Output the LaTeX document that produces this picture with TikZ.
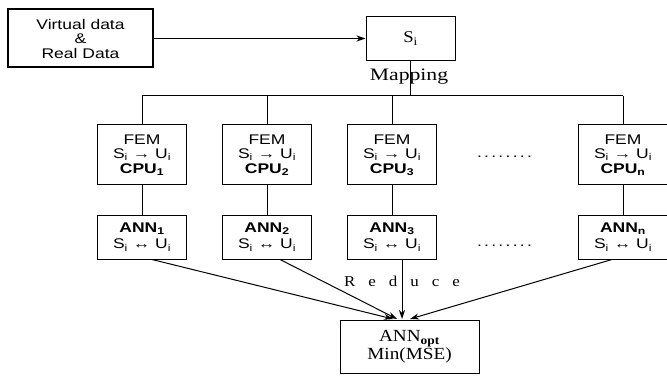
\documentclass[tikz,border=0pt]{standalone}
\usepackage{fontspec}
\setmainfont{Liberation Serif}[FakeStretch=1.13]
\setsansfont{Liberation Sans}[FakeStretch=1.25]
\newfontfamily\mapfont{Liberation Serif}[FakeStretch=1.24]
\usetikzlibrary{arrows.meta,calc}
\newcommand{\dotrow}{.\kern2.3pt.\kern2.3pt.\kern2.3pt.\kern2.3pt.\kern2.3pt.\kern2.3pt.\kern2.3pt.}
\begin{document}
\begin{tikzpicture}[x=1pt,y=-1pt,
  box/.style={draw,line width=1pt,align=center,font=\sffamily\fontsize{14}{14.5}\selectfont,inner sep=0pt},
  fembox/.style={box,minimum width=89pt,minimum height=60pt},
  annbox/.style={box,minimum width=89pt,minimum height=44pt,font=\sffamily\fontsize{14}{16.5}\selectfont},
  wire/.style={line width=1pt},
  arr/.style={line width=1pt,-{Stealth[length=9pt,width=6pt]}},
  dots/.style={font=\sffamily\fontsize{14}{14.5}\selectfont},
  serif/.style={font=\fontsize{16.5}{18}\selectfont},
  ]
\useasboundingbox (0,0) rectangle (667,377);
\clip (0,0) rectangle (667,377);

\node[box,line width=2pt,minimum width=145pt,minimum height=58pt] (vd) at (80.5,38.5) {Virtual data\\\&\\Real Data};
\node[draw,line width=1pt,minimum width=89pt,minimum height=44pt,serif] (si) at (410.5,38.5) {S\textsubscript{i}};
\draw[arr] (vd.east) -- (si.west);

\node[font=\mapfont\fontsize{17.5}{18}\selectfont] (map) at (409,77) {Mapping};
\coordinate (bus) at (410.5,96);
\draw[wire] (si.south) -- (bus);

\node[fembox] (fem1) at (142,155) {FEM\\S\textsubscript{i} → U\textsubscript{i}\\\textbf{CPU\textsubscript{1}}};
\node[fembox] (fem2) at (267,155) {FEM\\S\textsubscript{i} → U\textsubscript{i}\\\textbf{CPU\textsubscript{2}}};
\node[fembox] (fem3) at (392,155) {FEM\\S\textsubscript{i} → U\textsubscript{i}\\\textbf{CPU\textsubscript{3}}};
\node[fembox] (femn) at (623,155) {FEM\\S\textsubscript{i} → U\textsubscript{i}\\\textbf{CPU\textsubscript{n}}};

\draw[wire] (fem1.north |- bus) -- (femn.north |- bus);
\foreach \n in {fem1,fem2,fem3,femn} \draw[wire] (\n.north |- bus) -- (\n.north);

\node[annbox] (ann1) at (142,237) {\textbf{ANN\textsubscript{1}}\\S\textsubscript{i} ↔ U\textsubscript{i}};
\node[annbox] (ann2) at (267,237) {\textbf{ANN\textsubscript{2}}\\S\textsubscript{i} ↔ U\textsubscript{i}};
\node[annbox] (ann3) at (392,237) {\textbf{ANN\textsubscript{3}}\\S\textsubscript{i} ↔ U\textsubscript{i}};
\node[annbox] (annn) at (623,237) {\textbf{ANN\textsubscript{n}}\\S\textsubscript{i} ↔ U\textsubscript{i}};

\draw[wire] (fem1) -- (ann1);
\draw[wire] (fem2) -- (ann2);
\draw[wire] (fem3) -- (ann3);
\draw[wire] (femn) -- (annn);

\node[dots] (d1) at (504.5,157) {\dotrow};
\node[dots] (d2) at (504.5,246) {\dotrow};

\node[draw,line width=1pt,minimum width=139pt,anchor=north,align=center,inner ysep=10pt,font=\fontsize{17}{18}\selectfont] (opt) at (409.5,320) {ANN\textsubscript{\textbf{opt}}\\Min(MSE)};

\node[font=\fontsize{15}{18}\selectfont] (red) at (402,281) {R\hspace{13pt}e\hspace{13pt}d\hspace{13pt}u\hspace{13pt}c\hspace{13pt}e};

\coordinate (t1) at (393,319);
\coordinate (t2) at (397,319);
\coordinate (t3) at (402,319);
\coordinate (t4) at (410,319);
\draw[arr] ($(ann1.south)+(10,0)$) -- (t1);
\draw[arr] ($(ann2.south)+(13,0)$) -- (t2);
\draw[arr] ($(ann3.south)+(10,0)$) -- (t3);
\draw[arr] ($(annn.south)+(-11,0)$) -- (t4);
\end{tikzpicture}
\end{document}
